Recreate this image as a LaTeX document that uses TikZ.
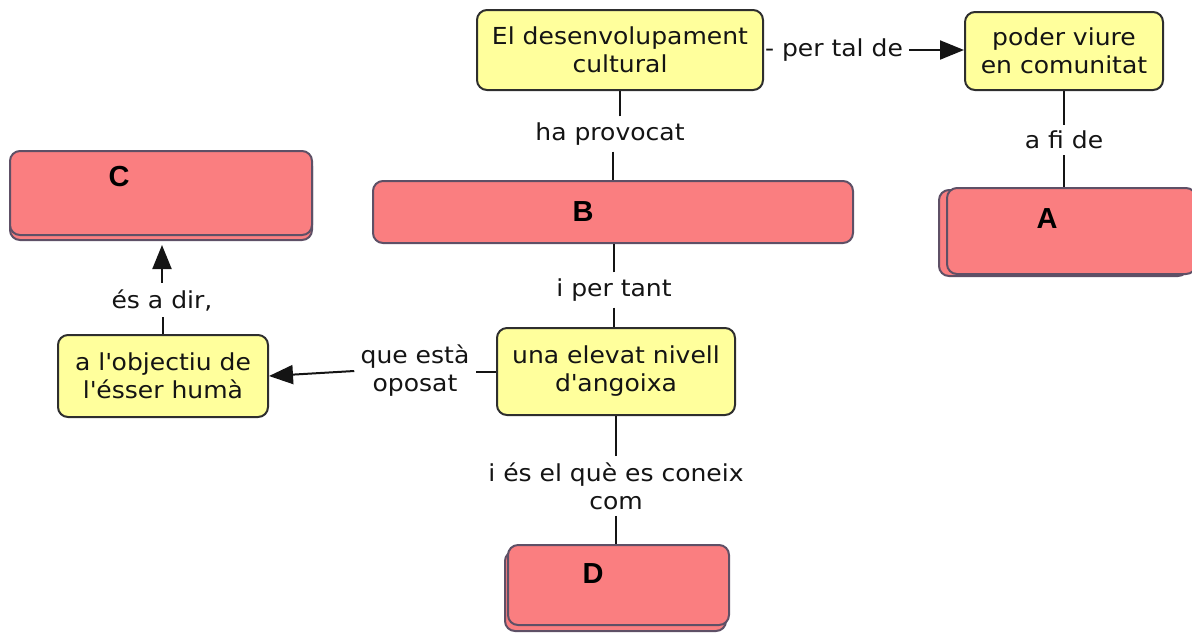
\documentclass[tikz,border=0pt]{standalone}
\usepackage{fontspec}
\setmainfont{DejaVu Sans}[FakeStretch=1.07]
\newfontfamily\letterfont{Liberation Sans}
\usetikzlibrary{arrows.meta}
\definecolor{yfill}{HTML}{FFFF9C}
\definecolor{ydraw}{HTML}{2E2E2E}
\definecolor{rfill}{HTML}{FA7E80}
\definecolor{rdraw}{HTML}{5E5066}
\definecolor{txt}{HTML}{141414}
\begin{document}
\begin{tikzpicture}[x=0.5pt,y=-0.5pt,
  concept/.style={draw=ydraw, fill=yfill, rounded corners=5pt, line width=1pt, align=center,
    font=\fontsize{11.7}{14}\selectfont, text=txt, inner sep=0pt},
  slot/.style={draw=rdraw, fill=rfill, rounded corners=5pt, line width=1pt, inner sep=0pt},
  lbl/.style={font=\fontsize{11.7}{14}\selectfont, align=center, inner sep=3pt, text=txt},
  con/.style={line width=1pt, draw=txt},
  arr/.style={con, -{Triangle[length=12pt,width=9.5pt]}},
  letter/.style={font=\letterfont\bfseries\fontsize{14.5}{16}\selectfont, text=black}]
\useasboundingbox (0,0) rectangle (1192,634);
% concepts
\node[concept, minimum width=143pt, minimum height=40pt] (dev) at (620,50) {El desenvolupament\\cultural};
\node[concept, minimum width=99pt, minimum height=39pt] (pod) at (1064,51) {poder viure\\en comunitat};
\node[concept, minimum width=119pt, minimum height=43.5pt] (ang) at (616,371.5) {una elevat nivell\\d\textquotesingle angoixa};
\node[concept, minimum width=105pt, minimum height=41pt] (obj) at (163,376) {a l\textquotesingle objectiu de\\l\textquotesingle ésser humà};
% slots
\node[slot, minimum width=240pt, minimum height=31pt, label={[letter, xshift=-15pt]center:B}] (B) at (613,212) {};
\node[slot, minimum width=151pt, minimum height=42pt] (Cs) at (161,198) {};
\node[slot, minimum width=151pt, minimum height=42pt, label={[letter, xshift=-21pt, yshift=8pt]center:C}] (C) at (161,193) {};
\node[slot, minimum width=124.5pt, minimum height=43pt] (As) at (1063.5,233) {};
\node[slot, minimum width=124.5pt, minimum height=43pt, label={[letter, xshift=-12.25pt, yshift=6pt]center:A}] (A) at (1071.5,231) {};
\node[slot, minimum width=110.5pt, minimum height=40pt] (Ds) at (615.5,591) {};
\node[slot, minimum width=110.5pt, minimum height=40pt, label={[letter, xshift=-12.75pt, yshift=5.5pt]center:D}] (D) at (618.5,585) {};
% linking phrases
\node[lbl] (l1) at (834,50) {- per tal de};
\node[lbl] (l2) at (610,134) {ha provocat};
\node[lbl] (l3) at (1064,140) {a fi de};
\node[lbl] (l4) at (614,290) {i per tant};
\node[lbl] (l5) at (415,371) {que està\\oposat};
\node[lbl] (l6) at (162,300) {és a dir,};
\node[lbl] (l7) at (616,486) {i és el què es coneix\\com};
% connectors
\draw[arr] (l1.east) -- (l1.east -| pod.west);
\draw[con] (l2.north -| dev.south) -- (dev.south);
\draw[con] (l2.south -| B.north) -- (B.north);
\draw[con] (l3.north) -- (l3.north |- pod.south);
\draw[con] (l3.south) -- (l3.south |- A.north);
\draw[con] (l4.north) -- (l4.north |- B.south);
\draw[con] (l4.south) -- (l4.south |- ang.north);
\draw[con] (ang.west) -- (ang.west -| l5.east);
\draw[arr] (l5.west) -- (obj.east);
\draw[con] (obj.north) -- (obj.north |- l6.south);
\draw[arr, shorten >=2pt] (l6.north) -- (l6.north |- Cs.south);
\draw[con] (l7.north) -- (l7.north |- ang.south);
\draw[con] (l7.south) -- (l7.south |- D.north);
\end{tikzpicture}
\end{document}
